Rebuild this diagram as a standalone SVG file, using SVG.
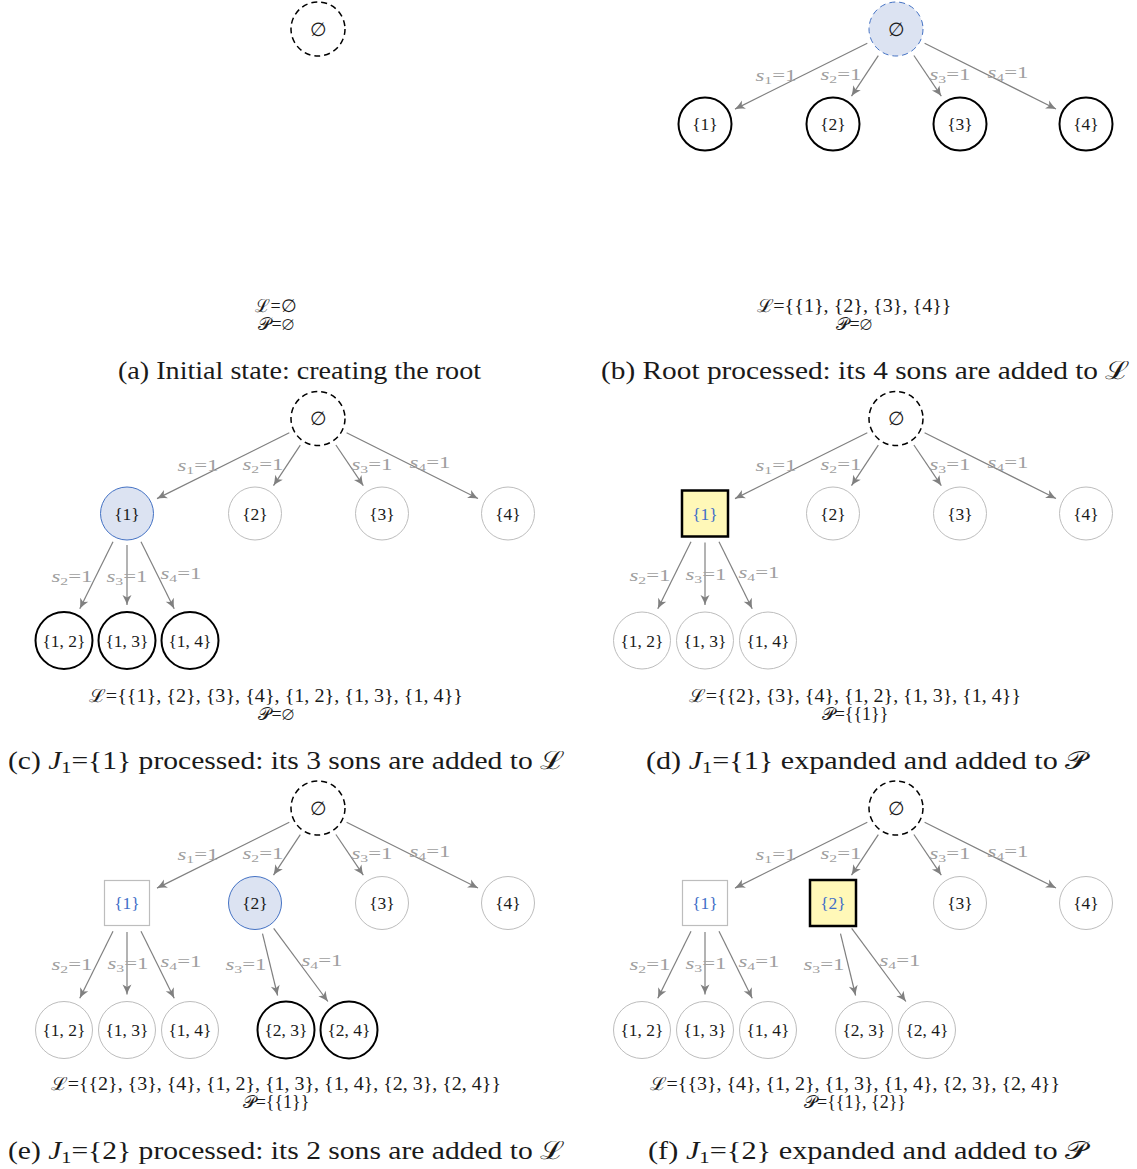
<svg xmlns="http://www.w3.org/2000/svg" width="1137" height="1169" viewBox="0 0 1137 1169">
<defs>
<marker id="arr" markerUnits="userSpaceOnUse" viewBox="-11 -5 12 10" refX="0" refY="0" markerWidth="12" markerHeight="10" orient="auto">
<path d="M-10,-4.5 Q-4,-1.2 0,0 Q-4,1.2 -10,4.5 L-7.5,0 Z" fill="#808080"/>
</marker>
</defs>
<style>
text{font-family:"Liberation Serif","DejaVu Serif",serif;fill:#1a1a1a}
.nl{font-size:17.5px;text-anchor:middle;dominant-baseline:central}
.em{font-size:19px;text-anchor:middle;dominant-baseline:central}
.blue{fill:#3f6fc8}
.el{font-size:16px;text-anchor:middle;fill:#a0a0a0}
.el tspan{fill:#a0a0a0}
.lp{font-size:18px;text-anchor:middle}
.cap{font-size:25px;text-anchor:middle}
.root{fill:none;stroke:#000;stroke-width:1.5;stroke-dasharray:6 4}
.rootb{fill:#dce3f2;stroke:#4472c4;stroke-width:1;stroke-dasharray:6 4}
.blk{fill:#fff;stroke:#000;stroke-width:2}
.gry{fill:#fff;stroke:#bdbdbd;stroke-width:1}
.cur{fill:#dce3f2;stroke:#4472c4;stroke-width:1}
.ysq{fill:#fff8b8;stroke:#000;stroke-width:2.5}
.gsq{fill:#fff;stroke:#bdbdbd;stroke-width:1.2}
.e{stroke:#808080;stroke-width:1.2;fill:none;marker-end:url(#arr)}
</style>
<rect width="1137" height="1169" fill="#fff"/>

<!-- Panel a -->
<g id="panel-a">
<g id="a-root"><circle class="root" cx="318" cy="29" r="27"/><text class="em" x="318" y="29">∅</text></g>
<text class="lp" x="276" y="312">ℒ=∅</text>
<text class="lp" x="276" y="330">𝒫=∅</text>
</g>

<!-- Panel b -->
<g id="panel-b" transform="translate(578,0)">
<g id="b-edges">
<line class="e" x1="289.3" y1="43.3" x2="157" y2="109.1"/>
<line class="e" x1="300.3" y1="55.7" x2="273.5" y2="96.1"/>
<line class="e" x1="335.9" y1="55.5" x2="363.3" y2="96.2"/>
<line class="e" x1="346.6" y1="43.3" x2="478" y2="109"/>
<text class="el" x="198" y="81" textLength="41" lengthAdjust="spacingAndGlyphs"><tspan font-style="italic">s</tspan><tspan font-size="11" dy="3">1</tspan><tspan dy="-3">=1</tspan></text>
<text class="el" x="263" y="80" textLength="41" lengthAdjust="spacingAndGlyphs"><tspan font-style="italic">s</tspan><tspan font-size="11" dy="3">2</tspan><tspan dy="-3">=1</tspan></text>
<text class="el" x="372" y="80" textLength="41" lengthAdjust="spacingAndGlyphs"><tspan font-style="italic">s</tspan><tspan font-size="11" dy="3">3</tspan><tspan dy="-3">=1</tspan></text>
<text class="el" x="430" y="78" textLength="41" lengthAdjust="spacingAndGlyphs"><tspan font-style="italic">s</tspan><tspan font-size="11" dy="3">4</tspan><tspan dy="-3">=1</tspan></text>
</g>
<g id="b-root"><circle class="rootb" cx="318" cy="29" r="27"/><text class="em" x="318" y="29">∅</text></g>
<g id="b-n1"><circle class="blk" cx="127" cy="124" r="26.5"/><text class="nl" x="127" y="124">{1}</text></g>
<g id="b-n2"><circle class="blk" cx="255" cy="124" r="26.5"/><text class="nl" x="255" y="124">{2}</text></g>
<g id="b-n3"><circle class="blk" cx="382" cy="124" r="26.5"/><text class="nl" x="382" y="124">{3}</text></g>
<g id="b-n4"><circle class="blk" cx="508" cy="124" r="26.5"/><text class="nl" x="508" y="124">{4}</text></g>
<text class="lp" x="276" y="312" textLength="195" lengthAdjust="spacingAndGlyphs">ℒ={{1}, {2}, {3}, {4}}</text>
<text class="lp" x="276" y="330">𝒫=∅</text>
</g>

<!-- Panel c -->
<g id="panel-c" transform="translate(0,389.5)">
<g id="c-edges">
<line class="e" x1="289.3" y1="43.3" x2="157" y2="109.1"/>
<line class="e" x1="300.3" y1="55.7" x2="273.5" y2="96.1"/>
<line class="e" x1="335.9" y1="55.5" x2="363.3" y2="96.2"/>
<line class="e" x1="346.6" y1="43.3" x2="478" y2="109"/>
<line class="e" x1="113" y1="152.2" x2="79.8" y2="219.2"/>
<line class="e" x1="127" y1="155.5" x2="127" y2="215.5"/>
<line class="e" x1="141" y1="152.2" x2="174.2" y2="219.2"/>
<text class="el" x="198" y="81" textLength="41" lengthAdjust="spacingAndGlyphs"><tspan font-style="italic">s</tspan><tspan font-size="11" dy="3">1</tspan><tspan dy="-3">=1</tspan></text>
<text class="el" x="263" y="80" textLength="41" lengthAdjust="spacingAndGlyphs"><tspan font-style="italic">s</tspan><tspan font-size="11" dy="3">2</tspan><tspan dy="-3">=1</tspan></text>
<text class="el" x="372" y="80" textLength="41" lengthAdjust="spacingAndGlyphs"><tspan font-style="italic">s</tspan><tspan font-size="11" dy="3">3</tspan><tspan dy="-3">=1</tspan></text>
<text class="el" x="430" y="78" textLength="41" lengthAdjust="spacingAndGlyphs"><tspan font-style="italic">s</tspan><tspan font-size="11" dy="3">4</tspan><tspan dy="-3">=1</tspan></text>
<text class="el" x="72" y="192" textLength="41" lengthAdjust="spacingAndGlyphs"><tspan font-style="italic">s</tspan><tspan font-size="11" dy="3">2</tspan><tspan dy="-3">=1</tspan></text>
<text class="el" x="127" y="192" textLength="41" lengthAdjust="spacingAndGlyphs"><tspan font-style="italic">s</tspan><tspan font-size="11" dy="3">3</tspan><tspan dy="-3">=1</tspan></text>
<text class="el" x="181" y="189" textLength="41" lengthAdjust="spacingAndGlyphs"><tspan font-style="italic">s</tspan><tspan font-size="11" dy="3">4</tspan><tspan dy="-3">=1</tspan></text>
</g>
<g id="c-root"><circle class="root" cx="318" cy="29" r="27"/><text class="em" x="318" y="29">∅</text></g>
<g id="c-n1"><circle class="cur" cx="127" cy="124" r="26.5"/><text class="nl" x="127" y="124">{1}</text></g>
<g id="c-n2"><circle class="gry" cx="255" cy="124" r="26.5"/><text class="nl" x="255" y="124">{2}</text></g>
<g id="c-n3"><circle class="gry" cx="382" cy="124" r="26.5"/><text class="nl" x="382" y="124">{3}</text></g>
<g id="c-n4"><circle class="gry" cx="508" cy="124" r="26.5"/><text class="nl" x="508" y="124">{4}</text></g>
<g id="c-n12"><circle class="blk" cx="64" cy="251" r="28.5"/><text class="nl" x="64" y="251">{1, 2}</text></g>
<g id="c-n13"><circle class="blk" cx="127" cy="251" r="28.5"/><text class="nl" x="127" y="251">{1, 3}</text></g>
<g id="c-n14"><circle class="blk" cx="190" cy="251" r="28.5"/><text class="nl" x="190" y="251">{1, 4}</text></g>
<text class="lp" x="276" y="312" textLength="374" lengthAdjust="spacingAndGlyphs">ℒ={{1}, {2}, {3}, {4}, {1, 2}, {1, 3}, {1, 4}}</text>
<text class="lp" x="276" y="330">𝒫=∅</text>
</g>

<!-- Panel d -->
<g id="panel-d" transform="translate(578,389.5)">
<g id="d-edges">
<line class="e" x1="289.3" y1="43.3" x2="157" y2="109.1"/>
<line class="e" x1="300.3" y1="55.7" x2="273.5" y2="96.1"/>
<line class="e" x1="335.9" y1="55.5" x2="363.3" y2="96.2"/>
<line class="e" x1="346.6" y1="43.3" x2="478" y2="109"/>
<line class="e" x1="113" y1="152.2" x2="79.8" y2="219.2"/>
<line class="e" x1="127" y1="153" x2="127" y2="215.5"/>
<line class="e" x1="141" y1="152.2" x2="174.2" y2="219.2"/>
<text class="el" x="198" y="81" textLength="41" lengthAdjust="spacingAndGlyphs"><tspan font-style="italic">s</tspan><tspan font-size="11" dy="3">1</tspan><tspan dy="-3">=1</tspan></text>
<text class="el" x="263" y="80" textLength="41" lengthAdjust="spacingAndGlyphs"><tspan font-style="italic">s</tspan><tspan font-size="11" dy="3">2</tspan><tspan dy="-3">=1</tspan></text>
<text class="el" x="372" y="80" textLength="41" lengthAdjust="spacingAndGlyphs"><tspan font-style="italic">s</tspan><tspan font-size="11" dy="3">3</tspan><tspan dy="-3">=1</tspan></text>
<text class="el" x="430" y="78" textLength="41" lengthAdjust="spacingAndGlyphs"><tspan font-style="italic">s</tspan><tspan font-size="11" dy="3">4</tspan><tspan dy="-3">=1</tspan></text>
<text class="el" x="72" y="191" textLength="41" lengthAdjust="spacingAndGlyphs"><tspan font-style="italic">s</tspan><tspan font-size="11" dy="3">2</tspan><tspan dy="-3">=1</tspan></text>
<text class="el" x="128" y="190" textLength="41" lengthAdjust="spacingAndGlyphs"><tspan font-style="italic">s</tspan><tspan font-size="11" dy="3">3</tspan><tspan dy="-3">=1</tspan></text>
<text class="el" x="181" y="188" textLength="41" lengthAdjust="spacingAndGlyphs"><tspan font-style="italic">s</tspan><tspan font-size="11" dy="3">4</tspan><tspan dy="-3">=1</tspan></text>
</g>
<g id="d-root"><circle class="root" cx="318" cy="29" r="27"/><text class="em" x="318" y="29">∅</text></g>
<g id="d-n1"><rect class="ysq" x="104" y="101" width="46" height="46"/><text class="nl blue" x="127" y="124">{1}</text></g>
<g id="d-n2"><circle class="gry" cx="255" cy="124" r="26.5"/><text class="nl" x="255" y="124">{2}</text></g>
<g id="d-n3"><circle class="gry" cx="382" cy="124" r="26.5"/><text class="nl" x="382" y="124">{3}</text></g>
<g id="d-n4"><circle class="gry" cx="508" cy="124" r="26.5"/><text class="nl" x="508" y="124">{4}</text></g>
<g id="d-n12"><circle class="gry" cx="64" cy="251" r="28.5"/><text class="nl" x="64" y="251">{1, 2}</text></g>
<g id="d-n13"><circle class="gry" cx="127" cy="251" r="28.5"/><text class="nl" x="127" y="251">{1, 3}</text></g>
<g id="d-n14"><circle class="gry" cx="190" cy="251" r="28.5"/><text class="nl" x="190" y="251">{1, 4}</text></g>
<text class="lp" x="277" y="312" textLength="332" lengthAdjust="spacingAndGlyphs">ℒ={{2}, {3}, {4}, {1, 2}, {1, 3}, {1, 4}}</text>
<text class="lp" x="277" y="330">𝒫={{1}}</text>
</g>

<!-- Panel e -->
<g id="panel-e" transform="translate(0,779)">
<g id="e-edges">
<line class="e" x1="289.3" y1="43.3" x2="157" y2="109.1"/>
<line class="e" x1="300.3" y1="55.7" x2="273.5" y2="96.1"/>
<line class="e" x1="335.9" y1="55.5" x2="363.3" y2="96.2"/>
<line class="e" x1="346.6" y1="43.3" x2="478" y2="109"/>
<line class="e" x1="113" y1="152.2" x2="79.8" y2="219.2"/>
<line class="e" x1="127" y1="153" x2="127" y2="215.5"/>
<line class="e" x1="141" y1="152.2" x2="174.2" y2="219.2"/>
<line class="e" x1="262.5" y1="154.6" x2="277.6" y2="216.5"/>
<line class="e" x1="273.7" y1="149.3" x2="327.9" y2="222.5"/>
<text class="el" x="198" y="81" textLength="41" lengthAdjust="spacingAndGlyphs"><tspan font-style="italic">s</tspan><tspan font-size="11" dy="3">1</tspan><tspan dy="-3">=1</tspan></text>
<text class="el" x="263" y="80" textLength="41" lengthAdjust="spacingAndGlyphs"><tspan font-style="italic">s</tspan><tspan font-size="11" dy="3">2</tspan><tspan dy="-3">=1</tspan></text>
<text class="el" x="372" y="80" textLength="41" lengthAdjust="spacingAndGlyphs"><tspan font-style="italic">s</tspan><tspan font-size="11" dy="3">3</tspan><tspan dy="-3">=1</tspan></text>
<text class="el" x="430" y="78" textLength="41" lengthAdjust="spacingAndGlyphs"><tspan font-style="italic">s</tspan><tspan font-size="11" dy="3">4</tspan><tspan dy="-3">=1</tspan></text>
<text class="el" x="72" y="191" textLength="41" lengthAdjust="spacingAndGlyphs"><tspan font-style="italic">s</tspan><tspan font-size="11" dy="3">2</tspan><tspan dy="-3">=1</tspan></text>
<text class="el" x="128" y="190" textLength="41" lengthAdjust="spacingAndGlyphs"><tspan font-style="italic">s</tspan><tspan font-size="11" dy="3">3</tspan><tspan dy="-3">=1</tspan></text>
<text class="el" x="181" y="188" textLength="41" lengthAdjust="spacingAndGlyphs"><tspan font-style="italic">s</tspan><tspan font-size="11" dy="3">4</tspan><tspan dy="-3">=1</tspan></text>
<text class="el" x="246" y="191" textLength="41" lengthAdjust="spacingAndGlyphs"><tspan font-style="italic">s</tspan><tspan font-size="11" dy="3">3</tspan><tspan dy="-3">=1</tspan></text>
<text class="el" x="322" y="187" textLength="41" lengthAdjust="spacingAndGlyphs"><tspan font-style="italic">s</tspan><tspan font-size="11" dy="3">4</tspan><tspan dy="-3">=1</tspan></text>
</g>
<g id="e-root"><circle class="root" cx="318" cy="29" r="27"/><text class="em" x="318" y="29">∅</text></g>
<g id="e-n1"><rect class="gsq" x="104.5" y="101.5" width="45" height="45"/><text class="nl blue" x="127" y="124">{1}</text></g>
<g id="e-n2"><circle class="cur" cx="255" cy="124" r="26.5"/><text class="nl" x="255" y="124">{2}</text></g>
<g id="e-n3"><circle class="gry" cx="382" cy="124" r="26.5"/><text class="nl" x="382" y="124">{3}</text></g>
<g id="e-n4"><circle class="gry" cx="508" cy="124" r="26.5"/><text class="nl" x="508" y="124">{4}</text></g>
<g id="e-n12"><circle class="gry" cx="64" cy="251" r="28.5"/><text class="nl" x="64" y="251">{1, 2}</text></g>
<g id="e-n13"><circle class="gry" cx="127" cy="251" r="28.5"/><text class="nl" x="127" y="251">{1, 3}</text></g>
<g id="e-n14"><circle class="gry" cx="190" cy="251" r="28.5"/><text class="nl" x="190" y="251">{1, 4}</text></g>
<g id="e-n23"><circle class="blk" cx="286" cy="251" r="28.5"/><text class="nl" x="286" y="251">{2, 3}</text></g>
<g id="e-n24"><circle class="blk" cx="349" cy="251" r="28.5"/><text class="nl" x="349" y="251">{2, 4}</text></g>
<text class="lp" x="276" y="311" textLength="450" lengthAdjust="spacingAndGlyphs">ℒ={{2}, {3}, {4}, {1, 2}, {1, 3}, {1, 4}, {2, 3}, {2, 4}}</text>
<text class="lp" x="276" y="329">𝒫={{1}}</text>
</g>

<!-- Panel f -->
<g id="panel-f" transform="translate(578,779)">
<g id="f-edges">
<line class="e" x1="289.3" y1="43.3" x2="157" y2="109.1"/>
<line class="e" x1="300.3" y1="55.7" x2="273.5" y2="96.1"/>
<line class="e" x1="335.9" y1="55.5" x2="363.3" y2="96.2"/>
<line class="e" x1="346.6" y1="43.3" x2="478" y2="109"/>
<line class="e" x1="113" y1="152.2" x2="79.8" y2="219.2"/>
<line class="e" x1="127" y1="153" x2="127" y2="215.5"/>
<line class="e" x1="141" y1="152.2" x2="174.2" y2="219.2"/>
<line class="e" x1="262.5" y1="154.6" x2="277.6" y2="216.5"/>
<line class="e" x1="273.7" y1="149.3" x2="327.9" y2="222.5"/>
<text class="el" x="198" y="81" textLength="41" lengthAdjust="spacingAndGlyphs"><tspan font-style="italic">s</tspan><tspan font-size="11" dy="3">1</tspan><tspan dy="-3">=1</tspan></text>
<text class="el" x="263" y="80" textLength="41" lengthAdjust="spacingAndGlyphs"><tspan font-style="italic">s</tspan><tspan font-size="11" dy="3">2</tspan><tspan dy="-3">=1</tspan></text>
<text class="el" x="372" y="80" textLength="41" lengthAdjust="spacingAndGlyphs"><tspan font-style="italic">s</tspan><tspan font-size="11" dy="3">3</tspan><tspan dy="-3">=1</tspan></text>
<text class="el" x="430" y="78" textLength="41" lengthAdjust="spacingAndGlyphs"><tspan font-style="italic">s</tspan><tspan font-size="11" dy="3">4</tspan><tspan dy="-3">=1</tspan></text>
<text class="el" x="72" y="191" textLength="41" lengthAdjust="spacingAndGlyphs"><tspan font-style="italic">s</tspan><tspan font-size="11" dy="3">2</tspan><tspan dy="-3">=1</tspan></text>
<text class="el" x="128" y="190" textLength="41" lengthAdjust="spacingAndGlyphs"><tspan font-style="italic">s</tspan><tspan font-size="11" dy="3">3</tspan><tspan dy="-3">=1</tspan></text>
<text class="el" x="181" y="188" textLength="41" lengthAdjust="spacingAndGlyphs"><tspan font-style="italic">s</tspan><tspan font-size="11" dy="3">4</tspan><tspan dy="-3">=1</tspan></text>
<text class="el" x="246" y="191" textLength="41" lengthAdjust="spacingAndGlyphs"><tspan font-style="italic">s</tspan><tspan font-size="11" dy="3">3</tspan><tspan dy="-3">=1</tspan></text>
<text class="el" x="322" y="187" textLength="41" lengthAdjust="spacingAndGlyphs"><tspan font-style="italic">s</tspan><tspan font-size="11" dy="3">4</tspan><tspan dy="-3">=1</tspan></text>
</g>
<g id="f-root"><circle class="root" cx="318" cy="29" r="27"/><text class="em" x="318" y="29">∅</text></g>
<g id="f-n1"><rect class="gsq" x="104.5" y="101.5" width="45" height="45"/><text class="nl blue" x="127" y="124">{1}</text></g>
<g id="f-n2"><rect class="ysq" x="232" y="101" width="46" height="46"/><text class="nl blue" x="255" y="124">{2}</text></g>
<g id="f-n3"><circle class="gry" cx="382" cy="124" r="26.5"/><text class="nl" x="382" y="124">{3}</text></g>
<g id="f-n4"><circle class="gry" cx="508" cy="124" r="26.5"/><text class="nl" x="508" y="124">{4}</text></g>
<g id="f-n12"><circle class="gry" cx="64" cy="251" r="28.5"/><text class="nl" x="64" y="251">{1, 2}</text></g>
<g id="f-n13"><circle class="gry" cx="127" cy="251" r="28.5"/><text class="nl" x="127" y="251">{1, 3}</text></g>
<g id="f-n14"><circle class="gry" cx="190" cy="251" r="28.5"/><text class="nl" x="190" y="251">{1, 4}</text></g>
<g id="f-n23"><circle class="gry" cx="286" cy="251" r="28.5"/><text class="nl" x="286" y="251">{2, 3}</text></g>
<g id="f-n24"><circle class="gry" cx="349" cy="251" r="28.5"/><text class="nl" x="349" y="251">{2, 4}</text></g>
<text class="lp" x="277" y="311" textLength="410" lengthAdjust="spacingAndGlyphs">ℒ={{3}, {4}, {1, 2}, {1, 3}, {1, 4}, {2, 3}, {2, 4}}</text>
<text class="lp" x="277" y="329">𝒫={{1}, {2}}</text>
</g>

<!-- Captions -->
<g id="captions">
<text class="cap" x="299.5" y="379" textLength="363" lengthAdjust="spacingAndGlyphs">(a) Initial state: creating the root</text>
<text class="cap" x="865.5" y="379" textLength="529" lengthAdjust="spacingAndGlyphs">(b) Root processed: its 4 sons are added to ℒ</text>
<text class="cap" x="286.5" y="769" textLength="557" lengthAdjust="spacingAndGlyphs">(c) <tspan font-style="italic">J</tspan><tspan font-size="17" dy="4">1</tspan><tspan dy="-4">={1} processed: its 3 sons are added to ℒ</tspan></text>
<text class="cap" x="866.5" y="769" textLength="441" lengthAdjust="spacingAndGlyphs">(d) <tspan font-style="italic">J</tspan><tspan font-size="17" dy="4">1</tspan><tspan dy="-4">={1} expanded and added to 𝒫</tspan></text>
<text class="cap" x="286.5" y="1159" textLength="557" lengthAdjust="spacingAndGlyphs">(e) <tspan font-style="italic">J</tspan><tspan font-size="17" dy="4">1</tspan><tspan dy="-4">={2} processed: its 2 sons are added to ℒ</tspan></text>
<text class="cap" x="867.5" y="1159" textLength="439" lengthAdjust="spacingAndGlyphs">(f) <tspan font-style="italic">J</tspan><tspan font-size="17" dy="4">1</tspan><tspan dy="-4">={2} expanded and added to 𝒫</tspan></text>
</g>
</svg>
